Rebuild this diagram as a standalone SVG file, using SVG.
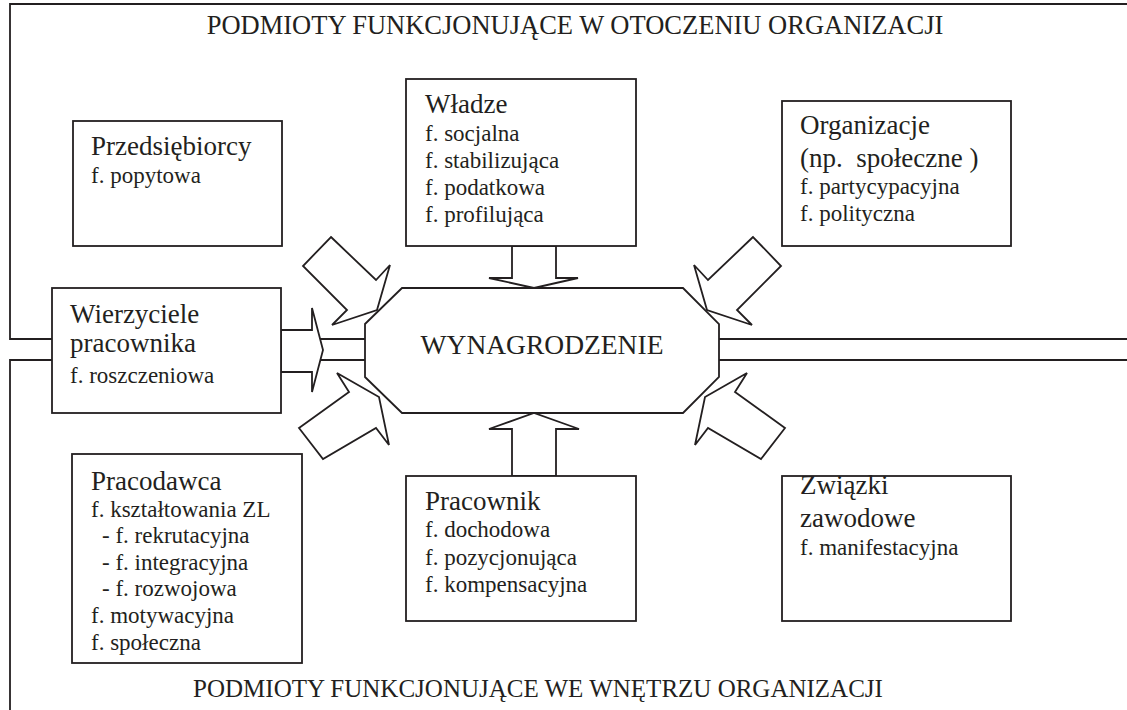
<svg xmlns="http://www.w3.org/2000/svg" width="1127" height="710" viewBox="0 0 1127 710" font-family="'Liberation Serif', 'DejaVu Serif', serif">
  <style>
    .ln { fill: none; stroke: #231f20; stroke-width: 1.8; }
    .box { fill: #ffffff; stroke: #231f20; stroke-width: 1.8; }
    .arw { fill: #ffffff; stroke: #231f20; stroke-width: 1.8; stroke-linejoin: miter; }
    text { font-family: 'Liberation Serif', 'DejaVu Serif', serif; fill: #231f20; }
    .hdr { font-size: 26.5px; text-anchor: middle; }
    .hdr2 { font-size: 25px; text-anchor: middle; }
    .ttl { font-size: 27px; }
    .itm { font-size: 23px; }
    .ctr { font-size: 27.5px; text-anchor: middle; }
  </style>

  <!-- outer frame: environment (top) and interior (bottom) -->
  <g id="frame">
    <path class="ln" d="M1127,4 H10 V339 H52"/>
    <path class="ln" d="M10,710 V360 H52"/>
    <path class="ln" d="M719,339 H1127 M719,360 H1127"/>
    <path class="ln" d="M320,339 H365 M320,360 H365"/>
    <text class="hdr" x="575" y="34">PODMIOTY FUNKCJONUJĄCE W OTOCZENIU ORGANIZACJI</text>
    <text class="hdr2" x="538" y="697">PODMIOTY FUNKCJONUJĄCE WE WNĘTRZU ORGANIZACJI</text>
  </g>

  <!-- block arrows pointing at the centre -->
  <g id="connectors">
    <polygon id="arrow-wierzyciele" class="arw" points="281,330 312,330 312,308 323,350 312,392 312,372 281,372"/>
    <polygon id="arrow-wladze" class="arw" points="512,246 556,246 556,278 578,278 534,288 489,278 512,278"/>
    <polygon id="arrow-pracownik" class="arw" points="512,476 512,429 489,429 534,413 579,429 556,429 556,476"/>
    <polygon id="arrow-przedsiebiorcy" class="arw" points="331,237 376,280 390,265 377,310 332,325 347,310 303,266"/>
    <polygon id="arrow-pracodawca" class="arw" points="299,428 349,392 337,373 379,397 389,445 376,428 323,459"/>
    <g transform="translate(1084,0) scale(-1,1)">
      <polygon id="arrow-organizacje" class="arw" points="331,237 376,280 390,265 377,310 332,325 347,310 303,266"/>
      <polygon id="arrow-zwiazki" class="arw" points="299,428 349,392 337,373 379,397 389,445 376,428 323,459"/>
    </g>
  </g>

  <g id="wynagrodzenie">
    <polygon class="box" points="402,288 683,288 719,324 719,377 683,413 402,413 365,377 365,324"/>
    <text class="ctr" x="542" y="354">WYNAGRODZENIE</text>
  </g>

  <g id="przedsiebiorcy">
    <rect class="box" x="73" y="121" width="209" height="125"/>
    <text class="ttl" x="91" y="155">Przedsiębiorcy</text>
    <text class="itm" x="91" y="183">f. popytowa</text>
  </g>

  <g id="wladze">
    <rect class="box" x="406" y="79" width="230" height="167"/>
    <text class="ttl" x="425" y="113">Władze</text>
    <text class="itm" x="425" y="141">f. socjalna</text>
    <text class="itm" x="425" y="168">f. stabilizująca</text>
    <text class="itm" x="425" y="195">f. podatkowa</text>
    <text class="itm" x="425" y="222">f. profilująca</text>
  </g>

  <g id="organizacje">
    <rect class="box" x="782" y="101" width="229" height="145"/>
    <text class="ttl" x="800" y="134">Organizacje</text>
    <text class="ttl" x="800" y="167" style="white-space:pre">(np.  społeczne )</text>
    <text class="itm" x="800" y="194">f. partycypacyjna</text>
    <text class="itm" x="800" y="221">f. polityczna</text>
  </g>

  <g id="wierzyciele">
    <rect class="box" x="52" y="288" width="229" height="125"/>
    <text class="ttl" x="70" y="323">Wierzyciele</text>
    <text class="ttl" x="70" y="352">pracownika</text>
    <text class="itm" x="70" y="383">f. roszczeniowa</text>
  </g>

  <g id="pracodawca">
    <rect class="box" x="72" y="454" width="230" height="209"/>
    <text class="ttl" x="91" y="490">Pracodawca</text>
    <text class="itm" x="91" y="517">f. kształtowania ZL</text>
    <text class="itm" x="102" y="543">- f. rekrutacyjna</text>
    <text class="itm" x="102" y="570">- f. integracyjna</text>
    <text class="itm" x="102" y="596">- f. rozwojowa</text>
    <text class="itm" x="91" y="623">f. motywacyjna</text>
    <text class="itm" x="91" y="650">f. społeczna</text>
  </g>

  <g id="pracownik">
    <rect class="box" x="406" y="476" width="230" height="145"/>
    <text class="ttl" x="425" y="510">Pracownik</text>
    <text class="itm" x="425" y="537">f. dochodowa</text>
    <text class="itm" x="425" y="565">f. pozycjonująca</text>
    <text class="itm" x="425" y="592">f. kompensacyjna</text>
  </g>

  <g id="zwiazki">
    <rect class="box" x="782" y="476" width="229" height="145"/>
    <text class="ttl" x="800" y="494">Związki</text>
    <text class="ttl" x="800" y="527">zawodowe</text>
    <text class="itm" x="800" y="555">f. manifestacyjna</text>
  </g>
</svg>
